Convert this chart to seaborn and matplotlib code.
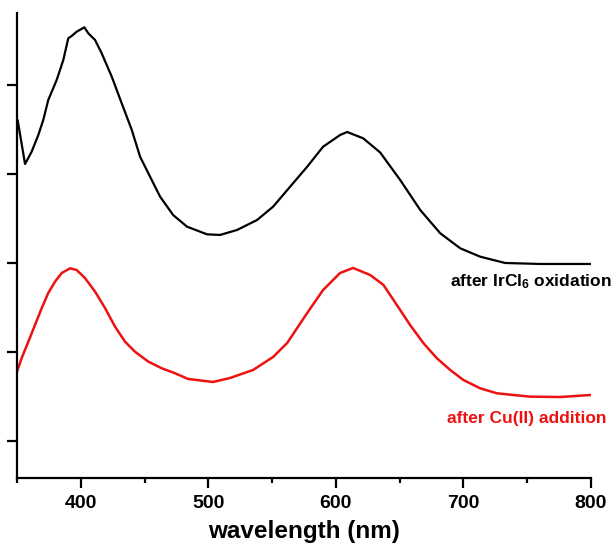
import matplotlib
matplotlib.use("Agg")
import matplotlib.pyplot as plt
import seaborn as sns
import pandas as pd
from matplotlib.ticker import MultipleLocator

# ---- data ----
wl_ox = [350.5, 356.3, 361.5, 366.7, 370.6, 374.5, 381.1, 386.3, 390.2, 392.9, 396.8, 402.8,
         405.9, 411.2, 416.4, 424.3, 432.1, 440, 446.5, 454.3, 462.2, 472.4, 483.3, 499,
         509.2, 522.5, 538.2, 550.8, 564.1, 577.5, 590, 603.3, 608.8, 621.4, 634.7, 650.4,
         666.1, 681.8, 697.5, 713.1, 732.7, 760.2, 800]
abs_ox = [4.607, 4.112, 4.251, 4.438, 4.607, 4.831, 5.056, 5.281, 5.525, 5.551, 5.599, 5.648,
          5.581, 5.506, 5.356, 5.093, 4.794, 4.494, 4.194, 3.970, 3.745, 3.539, 3.408, 3.322,
          3.315, 3.371, 3.483, 3.633, 3.857, 4.082, 4.307, 4.438, 4.472, 4.401, 4.242, 3.933,
          3.596, 3.334, 3.165, 3.071, 3.000, 2.989, 2.989]

wl_cu = [350, 353.7, 358.9, 364.1, 369.4, 374.5, 379.8, 385.1, 391.6, 396.8, 403.3, 411.2,
         419, 426.9, 434.7, 442.5, 453, 463.5, 473.9, 484.1, 503.7, 517.1, 535.1, 550.8,
         561.8, 577.5, 590, 603.3, 613.5, 626.9, 637.3, 647.8, 658.2, 668.7, 679.2, 689.6,
         700, 713.1, 726.2, 738.8, 752.4, 775.9, 800]
abs_cu = [1.779, 1.933, 2.116, 2.303, 2.494, 2.663, 2.790, 2.888, 2.940, 2.921, 2.831, 2.678,
          2.494, 2.284, 2.116, 2.003, 1.891, 1.817, 1.761, 1.697, 1.663, 1.708, 1.798, 1.944,
          2.101, 2.438, 2.697, 2.888, 2.944, 2.865, 2.753, 2.528, 2.303, 2.098, 1.929, 1.798,
          1.685, 1.592, 1.536, 1.517, 1.498, 1.494, 1.517]

label_ox = r"after IrCl$_{6}$ oxidation"
label_cu = "after Cu(II) addition"
x_major = [400, 500, 600, 700, 800]
y_ticks = [1, 2, 3, 4, 5]

sns.set_style("ticks")
plt.rcParams['font.family'] = ['Liberation Sans', 'DejaVu Sans']
plt.rcParams['mathtext.fontset'] = 'custom'
plt.rcParams['mathtext.rm'] = 'Liberation Sans:bold'
plt.rcParams['mathtext.bf'] = 'Liberation Sans:bold'
plt.rcParams['mathtext.it'] = 'Liberation Sans:bold'
plt.rcParams['mathtext.default'] = 'rm'
for key in ['text.color', 'axes.labelcolor', 'xtick.color', 'ytick.color', 'axes.edgecolor']:
    plt.rcParams[key] = 'black'

fig = plt.figure(figsize=(6.13, 5.55), dpi=100)
ax = fig.add_axes([17/613, 1-478/555, (591-17)/613, (478-13)/555])

df_ox = pd.DataFrame({"wl": wl_ox, "a": abs_ox})
df_cu = pd.DataFrame({"wl": wl_cu, "a": abs_cu})
sns.lineplot(data=df_ox, x="wl", y="a", ax=ax, color="black", lw=1.6, sort=False)
sns.lineplot(data=df_cu, x="wl", y="a", ax=ax, color="#ee1111", lw=1.8, sort=False)

ax.set_xlim(350, 800)
ax.set_ylim(0.584, 5.809)
ax.set_xticks(x_major)
ax.xaxis.set_minor_locator(MultipleLocator(50))
ax.set_yticks(y_ticks)
ax.set_yticklabels([])
ax.tick_params(axis='both', which='major', length=7, width=1.6, direction='out', color='black')
ax.tick_params(axis='x', which='minor', length=3.6, width=1.6, direction='out', color='black')
ax.tick_params(axis='x', labelsize=14, pad=5, labelcolor='black')
for lab in ax.get_xticklabels():
    lab.set_fontweight('bold')
for s in ['top', 'right']:
    ax.spines[s].set_visible(False)
for s in ['left', 'bottom']:
    ax.spines[s].set_linewidth(1.6)
    ax.spines[s].set_color('black')

ax.set_xlabel("wavelength (nm)", fontsize=17.5, fontweight='bold', labelpad=6, color='black')
ax.set_ylabel("")

ax.text(816, 2.787, label_ox, ha='right', va='center', fontsize=12.5,
        fontweight='bold', color='black', clip_on=False)
ax.text(812, 1.258, label_cu, ha='right', va='center', fontsize=12.5,
        fontweight='bold', color='#ee1111', clip_on=False)

fig.savefig("out.png", dpi=100)
